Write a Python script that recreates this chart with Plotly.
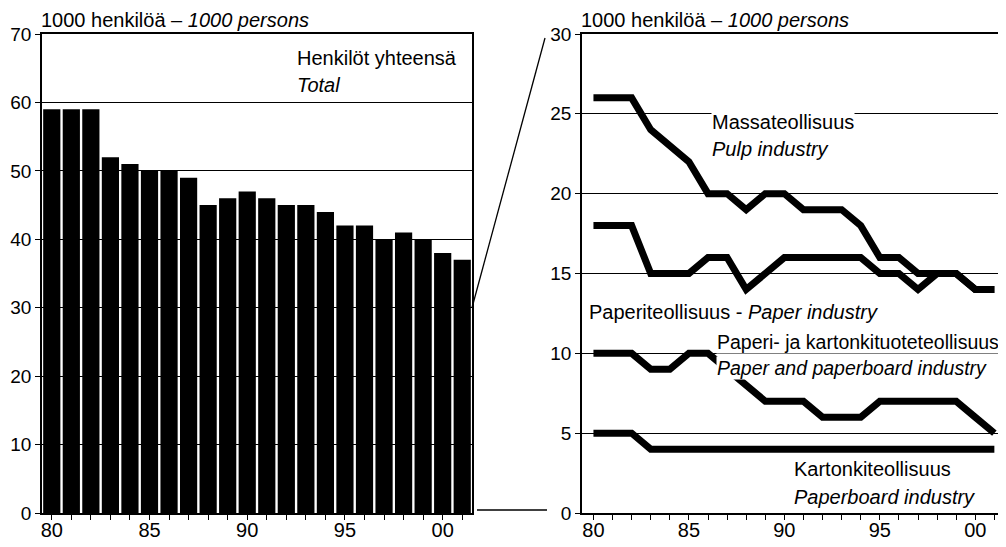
import plotly.graph_objects as go

years = list(range(1980, 2002))
tick_labels = ["80" if y == 1980 else "85" if y == 1985 else "90" if y == 1990 else "95" if y == 1995 else "00" if y == 2000 else "" for y in years]

total = [59, 59, 59, 52, 51, 50, 50, 49, 45, 46, 47, 46, 45, 45, 44, 42, 42, 40, 41, 40, 38, 37]
pulp = [26, 26, 26, 24, 23, 22, 20, 20, 19, 20, 20, 19, 19, 19, 18, 16, 16, 15, 15, 15, 14, 14]
paper = [18, 18, 18, 15, 15, 15, 16, 16, 14, 15, 16, 16, 16, 16, 16, 15, 15, 14, 15, 15, 14, 14]
products = [10, 10, 10, 9, 9, 10, 10, 9, 8, 7, 7, 7, 6, 6, 6, 7, 7, 7, 7, 7, 6, 5]
board = [5, 5, 5, 4, 4, 4, 4, 4, 4, 4, 4, 4, 4, 4, 4, 4, 4, 4, 4, 4, 4, 4]

# page body has an 8px margin: figure starts at (8, 8) in the window
OFF = 8
W, H = 1006 - OFF, 547 - OFF
FONT = "Liberation Sans"
FS = 20

fig = go.Figure()
fig.add_trace(go.Bar(x=years, y=total, marker=dict(color="black", line=dict(width=0)),
                     xaxis="x", yaxis="y", showlegend=False))
for s in [pulp, paper, products, board]:
    fig.add_trace(go.Scatter(x=years, y=s, mode="lines", line=dict(color="black", width=7),
                             xaxis="x2", yaxis="y2", showlegend=False))

def px(x):
    return (x - OFF) / W

def py(y):
    return 1 - (y - OFF) / H

ydom = [py(513), py(34)]
left_dom = [px(42), px(472)]
right_dom = [px(582), px(1002)]

common = dict(showline=True, linecolor="black", linewidth=1.5, mirror=True,
              ticks="outside", ticklen=5, tickcolor="black", tickwidth=1, automargin=False)
xfont = dict(family=FONT, size=20, color="black")
yfont = dict(family=FONT, size=19, color="black")

fig.update_layout(
    width=W, height=H, margin=dict(l=0, r=0, t=0, b=0, autoexpand=False),
    paper_bgcolor="white", plot_bgcolor="white", bargap=0.12,
    font=dict(family=FONT, size=FS, color="black"),
    xaxis=dict(domain=left_dom, range=[1979.5, 2001.5], tickvals=years, ticktext=tick_labels,
               showgrid=False, zeroline=False, anchor="y", tickfont=xfont,
               ticklabelstandoff=-7, **common),
    yaxis=dict(domain=ydom, range=[0, 70], tickvals=list(range(0, 71, 10)),
               showgrid=True, gridcolor="black", gridwidth=1, zeroline=False, anchor="x",
               tickfont=yfont, **common),
    xaxis2=dict(domain=right_dom, range=[1979.4, 2001.4], tickvals=years, ticktext=tick_labels,
                showgrid=False, zeroline=False, anchor="y2", tickfont=xfont,
                ticklabelstandoff=-7, **common),
    yaxis2=dict(domain=ydom, range=[0, 30], tickvals=list(range(0, 31, 5)),
                showgrid=True, gridcolor="black", gridwidth=1, zeroline=False, anchor="x2",
                tickfont=yfont, **common),
)

def note(text, x, y, italic=False, bg=None, size=FS):
    t = f"<i>{text}</i>" if italic else text
    fig.add_annotation(xref="paper", yref="paper", x=px(x), y=py(y), text=t, showarrow=False,
                       xanchor="left", yanchor="middle", font=dict(family=FONT, size=size, color="black"),
                       bgcolor=bg, borderpad=0)

unit = "1000 henkilöä – <i>1000 persons</i>"
note(unit, 40, 20)
note(unit, 580, 20)
note("Henkilöt yhteensä", 296, 58)
note("Total", 296, 85, italic=True)
note("Massateollisuus", 711, 122, bg="white")
note("Pulp industry", 711, 149, italic=True)
note("Paperiteollisuus - <i>Paper industry</i>", 588, 312)
note("Paperi- ja kartonkituoteteollisuus", 716, 342, bg="white", size=19.5)
note("Paper and paperboard industry", 716, 368, italic=True, bg="white", size=19.5)
note("Kartonkiteollisuus", 793, 469)
note("Paperboard industry", 793, 497, italic=True)

# connector lines between the two panels (zoom indication)
y30_left = ydom[0] + (ydom[1] - ydom[0]) * 30 / 70
fig.add_shape(type="line", xref="paper", yref="paper", x0=left_dom[1], y0=y30_left,
              x1=px(545), y1=py(38), line=dict(color="black", width=1.3))
fig.add_shape(type="line", xref="paper", yref="paper", x0=px(477), y0=py(510),
              x1=px(547), y1=py(510), line=dict(color="black", width=1.3))

fig.write_html("out.html")
